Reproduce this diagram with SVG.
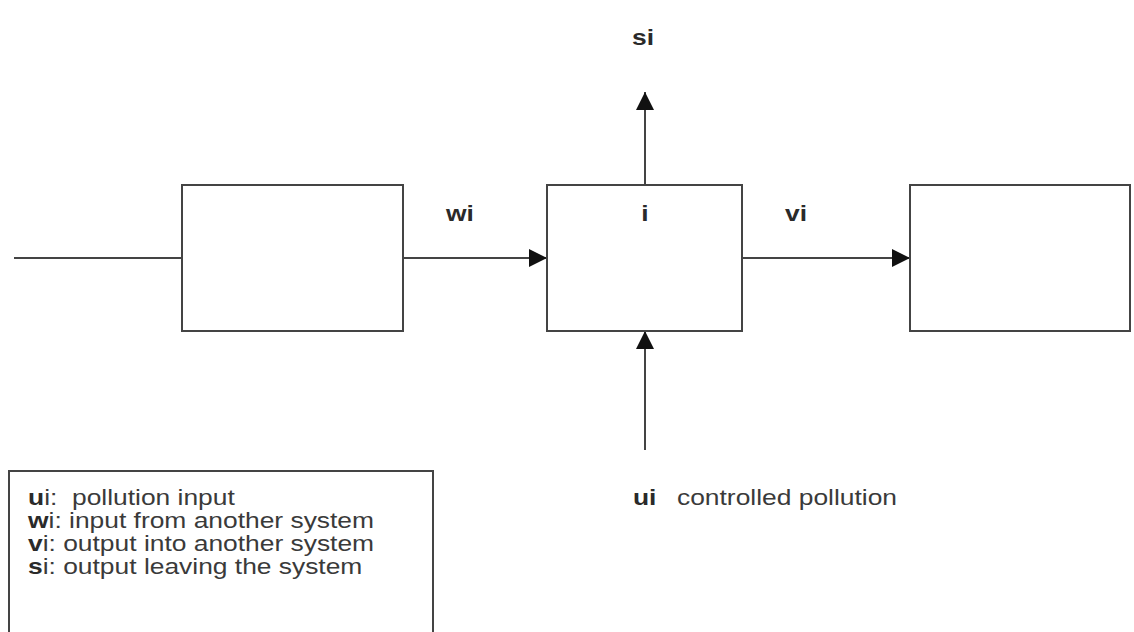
<svg xmlns="http://www.w3.org/2000/svg" width="1134" height="632" viewBox="0 0 1134 632">
<style>
.box{fill:#fff;stroke:#444;stroke-width:2}
.ln{stroke:#444;stroke-width:2;fill:none}
.t{font-family:"Liberation Sans",Arial,sans-serif;font-size:22px;fill:#3a3a3a}
.b{font-weight:bold;fill:#2a2a2a}
</style>
<defs>
<marker id="ah" viewBox="0 0 10 10" refX="10" refY="5" markerWidth="18" markerHeight="18" markerUnits="userSpaceOnUse" orient="auto">
<path d="M0,0 L10,5 L0,10 Z" fill="#111"/>
</marker>
</defs>
<rect width="1134" height="632" fill="#fff"/>
<g id="connectors">
<line class="ln" x1="14" y1="258" x2="182" y2="258"/>
<line class="ln" x1="403" y1="258" x2="547" y2="258" marker-end="url(#ah)"/>
<line class="ln" x1="742" y1="258" x2="910" y2="258" marker-end="url(#ah)"/>
<line class="ln" x1="645" y1="185" x2="645" y2="92" marker-end="url(#ah)"/>
<line class="ln" x1="645" y1="450" x2="645" y2="331" marker-end="url(#ah)"/>
</g>
<g id="node-prev"><rect class="box" x="182" y="185" width="221" height="146"/></g>
<g id="node-i"><rect class="box" x="547" y="185" width="195" height="146"/>
<text class="t b" transform="translate(645,221) scale(1.2,1)" text-anchor="middle">i</text></g>
<g id="node-next"><rect class="box" x="910" y="185" width="220" height="146"/></g>
<g id="labels">
<text class="t b" transform="translate(643,45) scale(1.2,1)" text-anchor="middle">si</text>
<text class="t b" transform="translate(460,221) scale(1.2,1)" text-anchor="middle">wi</text>
<text class="t b" transform="translate(796,221) scale(1.2,1)" text-anchor="middle">vi</text>
<text class="t b" transform="translate(633,505) scale(1.2,1)">ui</text>
<text class="t" transform="translate(677,505) scale(1.2,1)">controlled pollution</text>
</g>
<g id="legend">
<rect class="box" x="9" y="471" width="424" height="175"/>
<text class="t" transform="translate(28,505) scale(1.2,1)" xml:space="preserve"><tspan class="b">u</tspan>i:  pollution input</text>
<text class="t" transform="translate(28,528) scale(1.2,1)"><tspan class="b">w</tspan>i: input from another system</text>
<text class="t" transform="translate(28,551) scale(1.2,1)"><tspan class="b">v</tspan>i: output into another system</text>
<text class="t" transform="translate(28,574) scale(1.2,1)"><tspan class="b">s</tspan>i: output leaving the system</text>
</g>
</svg>
